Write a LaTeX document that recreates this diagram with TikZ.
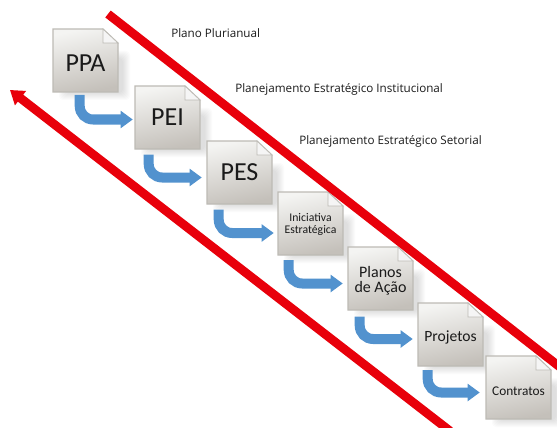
\documentclass[tikz,border=0pt]{standalone}
\usepackage{fontspec}
\setmainfont{Carlito}
\newfontfamily\labelfont{Open Sans}
\usetikzlibrary{arrows.meta,calc}
\definecolor{docline}{HTML}{BDBBB5}
\definecolor{doctop}{HTML}{F4F4F2}
\definecolor{docbot}{HTML}{C4C0BA}
\definecolor{flow}{HTML}{5292CE}
\definecolor{redline}{HTML}{E8000B}
\definecolor{txt}{HTML}{1A1A1A}
\tikzset{
  x=0.75pt,y=-0.75pt,
  docnode/.style 2 args={minimum width=48.75pt,minimum height=47.25pt,inner sep=0pt,align=center,text=txt,font=\fontsize{#1}{#2}\selectfont},
  flowarrow/.style={draw=flow,line width=7.5pt,rounded corners=10pt,-{Triangle[length=9pt,width=12.5pt]}},
  redband/.style={draw=redline,line width=6.6pt},
  caption/.style={inner sep=0pt,anchor=west,text=txt,font=\labelfont\fontsize{8.75}{10}\selectfont},
}
% #1 name, #2 left, #3 top, #4 font size, #5 leading, #6 text, #7 text centre below top
\newcommand{\docpage}[7]{%
  \foreach \ii in {0,...,7}{
    \fill[black,opacity=0.016,rounded corners=3pt]
      (#2+6+\ii,#3+22+\ii) rectangle (#2+77-\ii,#3+71-\ii);
  }
  \shade[top color=doctop,bottom color=docbot,shading angle=12,draw=docline,line width=0.8pt]
    (#2,#3) -- (#2+50,#3) -- (#2+65,#3+14) -- (#2+65,#3+63) -- (#2,#3+63) -- cycle;
  \fill[white!92!gray,draw=docline,line width=0.6pt] (#2+50,#3) -- (#2+50,#3+14) -- (#2+65,#3+14) -- cycle;
  \node[docnode={#4}{#5}] (#1) at (#2+32.5,#3+#7) {#6};
}
\begin{document}
\begin{tikzpicture}
\useasboundingbox[fill=white] (0,0) rectangle (557,428);
\docpage{ppa}{53}{29}{19.5}{22}{PPA}{34}
\docpage{pei}{135}{86}{19.5}{22}{PEI}{31.5}
\docpage{pes}{207}{141}{19.5}{22}{PES}{31.5}
\docpage{ini}{278}{192}{8.8}{9}{Iniciativa\\Estratégica}{32}
\docpage{pla}{348}{247}{12}{11.2}{Planos\\de Ação}{33.5}
\docpage{pro}{418}{303}{11.7}{13}{Projetos}{34}
\docpage{con}{486}{356}{10}{11}{Contratos}{35.5}
\coordinate (upA) at (108,14);
\coordinate (upB) at (565,371);
\coordinate (loA) at (450,431);
\coordinate (loB) at (10,90);
\draw[redband] (upA) -- (upB);
\draw[redband,-{Triangle[length=10pt,width=13pt]}] (loA) -- (loB);
\draw[flowarrow] ($(ppa.west)+(27,32)$) |- ($(pei.west)+(-2,2)$);
\draw[flowarrow] ($(pei.west)+(14,37)$) |- ($(pes.west)+(-5,5)$);
\draw[flowarrow] ($(pes.west)+(12,37)$) |- ($(ini.west)+(-4,9)$);
\draw[flowarrow] ($(ini.west)+(11,36)$) |- ($(pla.west)+(-5,3)$);
\draw[flowarrow] ($(pla.west)+(12,36)$) |- ($(pro.west)+(-5,2)$);
\draw[flowarrow] ($(pro.west)+(10,33)$) |- ($(con.west)+(-6,1)$);
\node[caption] (c1) at (171,33) {Plano Plurianual};
\node[caption] (c2) at (235,89) {Planejamento Estratégico Institucional};
\node[caption] (c3) at (299,141) {Planejamento Estratégico Setorial};
\end{tikzpicture}
\end{document}
